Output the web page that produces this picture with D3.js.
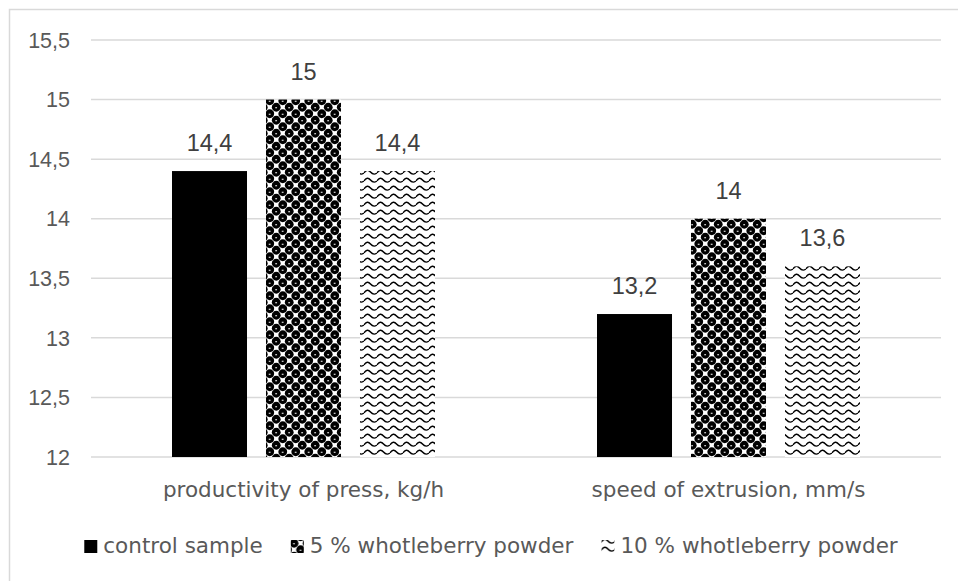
<!DOCTYPE html>
<html><head><meta charset="utf-8">
<script src="https://cdn.jsdelivr.net/npm/d3@7"></script>
<style>body{margin:0;background:#fff}svg{display:block}</style>
</head><body>
<svg id="c" width="958" height="581"></svg>
<script>
const categories = ["productivity of press, kg/h", "speed of extrusion, mm/s"];
const seriesNames = ["control sample", "5 % whotleberry powder", "10 % whotleberry powder"];
const controlValues = [14.4, 13.2];
const fivePctValues = [15, 14];
const tenPctValues = [14.4, 13.6];
const valueLabels = [["14,4", "13,2"], ["15", "14"], ["14,4", "13,6"]];
const yTicks = [12, 12.5, 13, 13.5, 14, 14.5, 15, 15.5];
const yTickLabels = ["12", "12,5", "13", "13,5", "14", "14,5", "15", "15,5"];

const series = [controlValues, fivePctValues, tenPctValues];
const fills = ["#000", "url(#sphere)", "url(#wave)"];

const svg = d3.select("#c");
const defs = svg.append("defs");
// sphere pattern
const sp = defs.append("pattern").attr("id", "sphere").attr("patternUnits", "userSpaceOnUse")
  .attr("width", 13).attr("height", 13);
sp.append("rect").attr("width", 13).attr("height", 13).attr("fill", "#fff");
[[3.25, 3.25], [9.75, 9.75], [-3.25, 9.75], [16.25, 9.75], [9.75, -3.25], [9.75, 16.25], [3.25, 16.25], [16.25, 3.25], [-3.25, -3.25]]
  .forEach(([cx, cy]) => {
    sp.append("circle").attr("cx", cx).attr("cy", cy).attr("r", 4.4).attr("fill", "#000");
    sp.append("rect").attr("x", cx - 1).attr("y", cy).attr("width", 1.8).attr("height", 1).attr("fill", "#fff");
  });
// wave pattern
const wv = defs.append("pattern").attr("id", "wave").attr("patternUnits", "userSpaceOnUse")
  .attr("width", 13).attr("height", 8);
wv.append("rect").attr("width", 13).attr("height", 8).attr("fill", "#fff");
wv.append("path").attr("d", "M0 5 C2 1.5 4.5 1.5 6.5 4 S11 6.5 13 5")
  .attr("fill", "none").attr("stroke", "#000").attr("stroke-width", 1.4);

// frame
svg.append("rect").attr("x", 9.5).attr("y", 9.5).attr("width", 1000).attr("height", 1000)
  .attr("fill", "none").attr("stroke", "#d9d9d9").attr("stroke-width", 1.5);

const y = d3.scaleLinear().domain([12, 15.5]).range([457, 40]);
const x0 = d3.scaleBand().domain(categories).range([91, 941]).padding(0);
const x1 = d3.scaleBand().domain(d3.range(series.length)).range([81, 344]).paddingInner(0.202).paddingOuter(0);

// gridlines
svg.append("g").selectAll("line").data(yTicks).join("line")
  .attr("x1", 91).attr("x2", 941)
  .attr("y1", d => y(d)).attr("y2", d => y(d))
  .attr("stroke", "#d9d9d9").attr("stroke-width", 1.5);

// y tick labels
svg.append("g").selectAll("text").data(yTicks).join("text")
  .attr("x", 70).attr("y", d => y(d)).attr("dy", "0.36em")
  .attr("text-anchor", "end")
  .attr("font-family", "Liberation Sans, Arial, sans-serif").attr("font-size", 21.5)
  .attr("fill", "#595959")
  .text((d, i) => yTickLabels[i]);

// bars
const g = svg.append("g");
series.forEach((vals, si) => {
  g.append("g").selectAll("rect").data(vals).join("rect")
    .attr("x", (d, ci) => x0(categories[ci]) + x1(si))
    .attr("width", x1.bandwidth())
    .attr("y", d => y(d))
    .attr("height", d => y(12) - y(d))
    .attr("fill", fills[si]);
  g.append("g").selectAll("text").data(vals).join("text")
    .attr("x", (d, ci) => x0(categories[ci]) + x1(si) + x1.bandwidth() / 2)
    .attr("y", d => y(d) - 20)
    .attr("text-anchor", "middle")
    .attr("font-family", "Liberation Sans, Arial, sans-serif").attr("font-size", 23.5)
    .attr("fill", "#404040")
    .text((d, ci) => valueLabels[si][ci]);
});

// category labels
svg.append("g").selectAll("text").data(categories).join("text")
  .attr("x", d => x0(d) + x0.bandwidth() / 2).attr("y", 497)
  .attr("text-anchor", "middle")
  .attr("font-family", "DejaVu Sans, sans-serif").attr("font-size", 21.5)
  .attr("fill", "#595959")
  .text(d => d);

// legend
const leg = svg.append("g");
const items = leg.selectAll("g").data(seriesNames).join("g");
items.append("rect").attr("width", 13).attr("height", 13).attr("y", -13)
  .attr("fill", (d, i) => fills[i]);
const lt = items.append("text").attr("x", 19).attr("y", 0)
  .attr("font-family", "DejaVu Sans, sans-serif").attr("font-size", 21.5)
  .attr("fill", "#595959").text(d => d);
let widths = lt.nodes().map(n => 19 + n.getComputedTextLength());
const gap = 28;
const total = d3.sum(widths) + gap * (widths.length - 1);
let cx = 491 - total / 2;
items.each(function (d, i) {
  d3.select(this).attr("transform", `translate(${cx},553)`);
  cx += widths[i] + gap;
});
</script>
</body></html>
